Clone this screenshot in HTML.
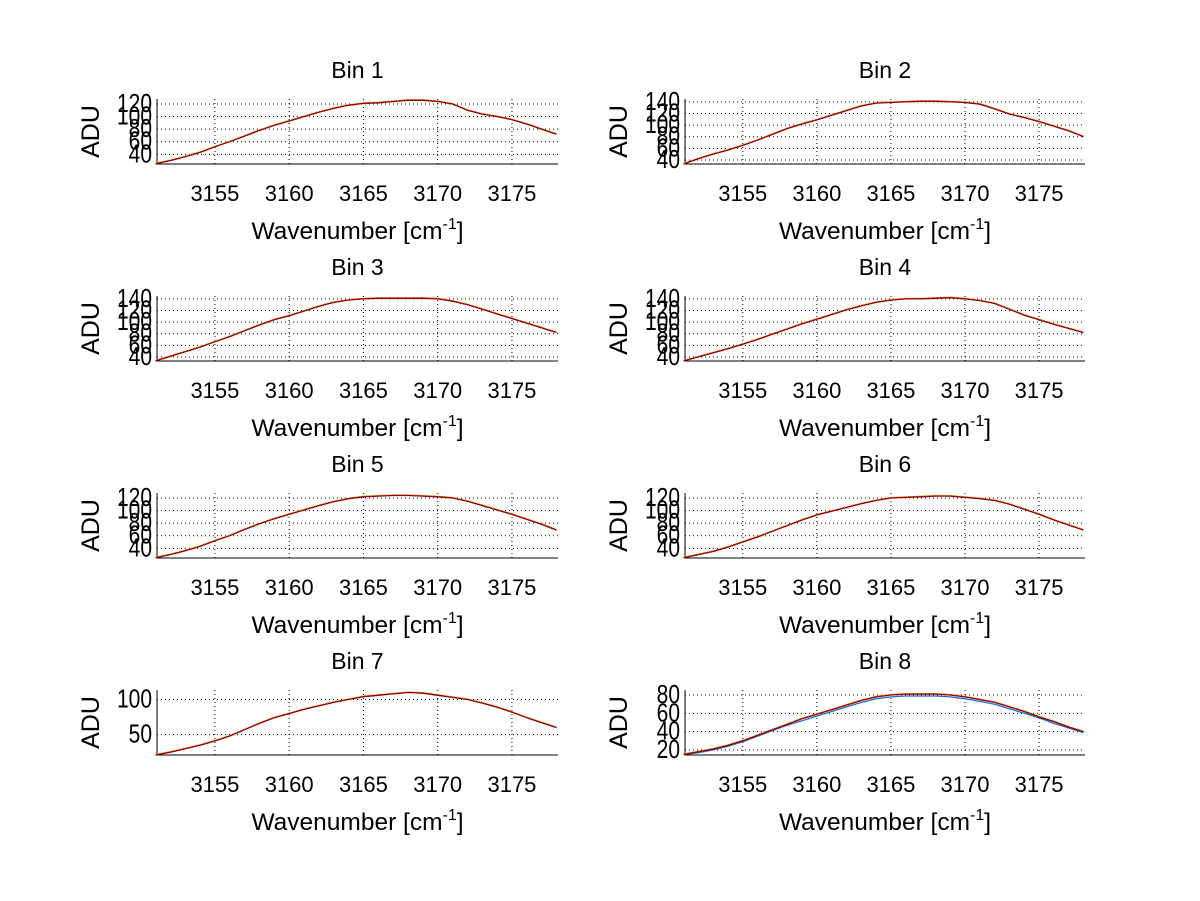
<!DOCTYPE html>
<html><head><meta charset="utf-8"><style>
html,body{margin:0;padding:0;background:#fff;}
svg{display:block;font-family:"Liberation Sans",Arial,sans-serif;}
</style></head><body>
<svg id="chart" width="1200" height="901" viewBox="0 0 1200 901" xmlns="http://www.w3.org/2000/svg">
<rect width="1200" height="901" fill="#fff"/>
</svg>
<script>
const wavenumbers = [3151,3152,3153,3154,3155,3156,3157,3158,3159,3160,3161,3162,3163,3164,3165,3166,3167,3168,3169,3170,3171,3172,3173,3174,3175,3176,3177,3178];
const xTicks = [3155,3160,3165,3170,3175];
const binTitles = ["Bin 1","Bin 2","Bin 3","Bin 4","Bin 5","Bin 6","Bin 7","Bin 8"];
const yDomains = [[24.6,128],[33,145],[33,145],[33,145],[24.6,128],[24.6,128],[21,113.6],[14.5,85.5]];
const yTicks = [[40,60,80,100,120],[40,60,80,100,120,140],[40,60,80,100,120,140],[40,60,80,100,120,140],[40,60,80,100,120],[40,60,80,100,120],[50,100],[20,40,60,80]];
const bin1 = [25,30,36,43,52,60,69,78,86,93,100,107,113,118,121,122,124,126,126,124,120,110,104,100,95,88,80,72];
const bin2 = [33,42,50,57,65,74,84,94,102,109,117,125,133,138,139,140,141,141,140,139,136,128,119,113,106,98,90,80];
const bin3 = [33,41,49,57,66,75,85,95,104,111,119,127,134,138,140,141,141,141,141,140,136,130,122,114,106,98,90,82];
const bin4 = [33,40,47,54,62,70,79,88,97,105,113,121,128,134,138,140,140,141,142,140,137,132,122,112,104,96,89,82];
const bin5 = [25,30,36,43,52,60,70,79,87,94,101,108,114,119,122,123,124,124,123,122,120,115,108,101,94,86,78,69];
const bin6 = [25,30,35,42,50,58,67,76,85,93,99,105,111,116,120,121,122,123,123,121,119,116,110,102,94,85,77,69];
const bin7 = [21,25,30,35,41,48,57,66,74,80,86,91,96,100,104,106,108,110,109,106,103,100,95,89,82,74,67,60];
const bin8 = [15,18,21,25,30,36,42,48,54,59,64,69,74,78,80,81,81,81,80,78,75,72,67,62,56,51,45,40];
const bin8Blue = [15,17,20,24,29,35,41,47,52,57,62,67,72,76,78,79,79,79,78,76,73,70,65,60,55,49,44,39];
const binSeries = [bin1,bin2,bin3,bin4,bin5,bin6,bin7,bin8];
const xDomain = [3151.1,3178.1];

const NS="http://www.w3.org/2000/svg";
const svg=document.getElementById('chart');
function mk(tag,attrs,parent){const e=document.createElementNS(NS,tag);for(const k in attrs)e.setAttribute(k,attrs[k]);(parent||svg).appendChild(e);return e;}

for(let i=0;i<8;i++){
  const col=i%2,row=Math.floor(i/2);
  const x0=col?685:157,x1=col?1085:558;
  const yTop=99+197*row,yBot=164+197*row;
  const [d0,d1]=yDomains[i];
  const sx=v=>x0+(v-xDomain[0])/(xDomain[1]-xDomain[0])*(x1-x0);
  const sy=v=>yBot-(v-d0)/(d1-d0)*(yBot-yTop);
  const g=mk('g',{});
  
  
  yTicks[i].forEach(t=>{
    const l=mk('line',{x1:x0,x2:x1,y1:sy(t),y2:sy(t),stroke:'#000','stroke-width':1,'stroke-dasharray':'1,3'},g);
    
    
    const tx=mk('text',{x:0,y:0,transform:`translate(${x0-5},${sy(t)+8}) scale(1,1.25)`,'text-anchor':'end','font-size':21,fill:'#000'},g);
    
    
    tx.textContent=t;
  });
  xTicks.forEach(t=>{
    const l=mk('line',{x1:sx(t),x2:sx(t),y1:yTop,y2:yBot,stroke:'#000','stroke-width':1,'stroke-dasharray':'1,3'},g);
    
    
    const tx=mk('text',{x:sx(t),y:yBot+37,'text-anchor':'middle','font-size':22,fill:'#000'},g);
    
    
    tx.textContent=t;
  });
  const ax=mk('path',{d:`M${x0},${yTop} V${yBot} H${x1}`,fill:'none',stroke:'#000','stroke-width':1},g);
  
  
  const vals=binSeries[i];
  const mkLine=(arr,color,off,name)=>{
    const d=arr.map((v,k)=>(k?'L':'M')+sx(wavenumbers[k]).toFixed(1)+','+(sy(v)+off).toFixed(1)).join(' ');
    const p=mk('path',{d:d,fill:'none',stroke:color,'stroke-width':1.3},g);
    
    
  };
  if(i===7){
    mkLine(bin8Blue,'#1f6fd0',0,'series-blue');
    mkLine(vals,'#e8a020',-0.5,'series-orange');
  } else {
    mkLine(vals,'#e8a020',-0.5,'series-orange');
  }
  mkLine(vals,'#900010',0,'series-red');
  const t=mk('text',{x:(x0+x1)/2,y:yTop-21,'text-anchor':'middle','font-size':23,fill:'#000'},g);
  
  
  t.textContent=binTitles[i];
  const xl=mk('text',{x:(x0+x1)/2,y:yBot+75,'text-anchor':'middle','font-size':24.5,fill:'#000'},g);
  
  
  xl.innerHTML='Wavenumber [cm<tspan dy="-10" font-size="16">-1</tspan><tspan dy="10">]</tspan>';
  const cy=(yTop+yBot)/2;
  const yl=mk('text',{x:0,y:0,transform:`translate(${x0-58},${cy}) rotate(-90)`,'text-anchor':'middle','font-size':25,fill:'#000'},g);
  
  
  yl.textContent='ADU';
}
</script>
</body></html>
